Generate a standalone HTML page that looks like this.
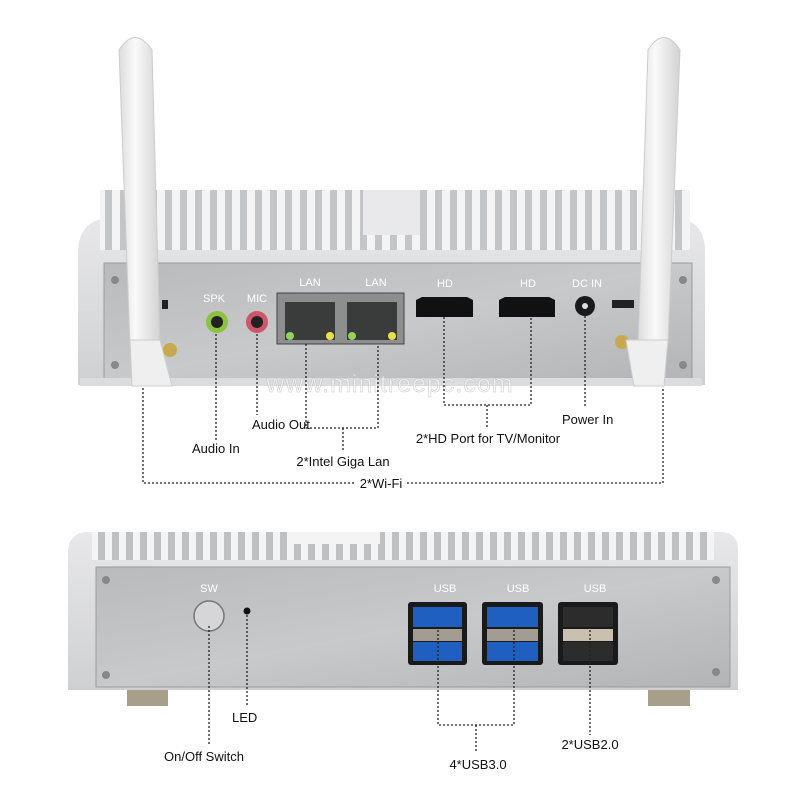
<!DOCTYPE html>
<html><head><meta charset="utf-8"><style>
body{margin:0;background:#fff;width:800px;height:800px;overflow:hidden}
svg text{font-family:"Liberation Sans",sans-serif}
</style></head><body>
<svg width="800" height="800" viewBox="0 0 800 800" xmlns="http://www.w3.org/2000/svg">
<defs>
<linearGradient id="body" x1="0" y1="0" x2="0" y2="1"><stop offset="0" stop-color="#e8e8ea"/><stop offset="1" stop-color="#cfd0d2"/></linearGradient>
<linearGradient id="panel" x1="0" y1="0" x2="1" y2="1"><stop offset="0" stop-color="#b9babc"/><stop offset="0.5" stop-color="#c8c9cb"/><stop offset="1" stop-color="#b3b4b6"/></linearGradient>
<linearGradient id="ant" x1="0" y1="0" x2="1" y2="0"><stop offset="0" stop-color="#dcdcdc"/><stop offset="0.4" stop-color="#fafafa"/><stop offset="1" stop-color="#d2d2d2"/></linearGradient>
<pattern id="fins" width="15" height="80" patternUnits="userSpaceOnUse"><rect width="15" height="80" fill="#f4f4f5"/><rect x="0" width="7" height="80" fill="#c4c5c7"/></pattern>
<pattern id="fins2" width="14" height="40" patternUnits="userSpaceOnUse"><rect width="14" height="40" fill="#f4f4f5"/><rect x="0" width="7" height="40" fill="#bfc0c2"/></pattern>
</defs>

<!-- TOP DEVICE -->
<path d="M78 250 Q80 218 112 218 L672 218 Q704 218 705 250 L705 385 L78 385 Z" fill="url(#body)"/>
<rect x="100" y="190" width="590" height="60" fill="url(#fins)"/>
<rect x="363" y="190" width="57" height="45" fill="#e9e9eb"/>
<rect x="104" y="263" width="588" height="119" fill="url(#panel)" stroke="#9a9b9d"/>
<rect x="80" y="378" width="622" height="8" fill="#dcdcde"/>
<circle cx="115" cy="280" r="4" fill="#888"/><circle cx="115" cy="365" r="4" fill="#888"/>
<circle cx="683" cy="280" r="4" fill="#888"/><circle cx="683" cy="365" r="4" fill="#888"/>
<rect x="162" y="300" width="6" height="9" fill="#222"/>
<rect x="612" y="300" width="22" height="8" fill="#222"/>
<text x="214" y="302" font-size="11" fill="#fff" text-anchor="middle">SPK</text>
<text x="257" y="302" font-size="11" fill="#fff" text-anchor="middle">MIC</text>
<text x="310" y="286" font-size="11" fill="#fff" text-anchor="middle">LAN</text>
<text x="376" y="286" font-size="11" fill="#fff" text-anchor="middle">LAN</text>
<text x="445" y="287" font-size="11" fill="#fff" text-anchor="middle">HD</text>
<text x="528" y="287" font-size="11" fill="#fff" text-anchor="middle">HD</text>
<text x="587" y="287" font-size="11" fill="#fff" text-anchor="middle">DC IN</text>
<circle cx="217" cy="322" r="11" fill="#8cc23c"/><circle cx="217" cy="322" r="6" fill="#222"/>
<circle cx="257" cy="322" r="11" fill="#d0556a"/><circle cx="257" cy="322" r="6" fill="#222"/>
<rect x="277" y="293" width="127" height="51" fill="#8d8e8e" stroke="#444"/>
<rect x="285" y="302" width="50" height="38" fill="#3a3b3b"/><rect x="347" y="302" width="50" height="38" fill="#3a3b3b"/>
<circle cx="290" cy="336" r="4" fill="#8fd35a"/><circle cx="330" cy="336" r="4" fill="#e8e04a"/>
<circle cx="352" cy="336" r="4" fill="#8fd35a"/><circle cx="392" cy="336" r="4" fill="#e8e04a"/>
<path d="M416 300 L422 297 L467 297 L473 300 L473 317 L416 317 Z" fill="#111"/>
<path d="M499 300 L505 297 L549 297 L555 300 L555 317 L499 317 Z" fill="#111"/>
<circle cx="585" cy="306" r="10" fill="#1a1a1a"/><circle cx="585" cy="306" r="3" fill="#ddd"/>
<circle cx="170" cy="350" r="7" fill="#c9a94e"/><circle cx="622" cy="342" r="7" fill="#c9a94e"/>
<!-- antennas -->
<path d="M119 50 Q135 25 152 50 L160 345 L130 345 Z" fill="url(#ant)" stroke="#ccc"/>
<path d="M130 340 L160 340 L172 386 L132 386 Z" fill="#efefef" stroke="#ccc"/>
<path d="M648 50 Q664 25 680 50 L668 345 L638 345 Z" fill="url(#ant)" stroke="#ccc"/>
<path d="M626 340 L668 340 L664 386 L634 386 Z" fill="#efefef" stroke="#ccc"/>
<text x="390" y="392" font-size="25" fill="#fff" fill-opacity="0.5" stroke="#c4c4c4" stroke-width="0.5" text-anchor="middle" letter-spacing="1">www.minitreepc.com</text>

<!-- top connectors -->
<g stroke="#222" stroke-width="1.3" stroke-dasharray="2,2" fill="none">
<path d="M216 334 V440"/><path d="M257 334 V415"/>
<path d="M306 344 V428 H378 V344"/><path d="M343 428 V452"/>
<path d="M444 317 V405 H531 V317"/><path d="M487 405 V428"/>
<path d="M585 316 V408"/>
<path d="M143 388 V483 H355"/><path d="M407 483 H663 V388"/>
</g>
<g font-size="13" fill="#111">
<text x="192" y="453">Audio In</text>
<text x="252" y="429">Audio Out</text>
<text x="343" y="466" text-anchor="middle">2*Intel Giga Lan</text>
<text x="488" y="443" text-anchor="middle">2*HD Port for TV/Monitor</text>
<text x="562" y="424">Power In</text>
<text x="381" y="488" text-anchor="middle">2*Wi-Fi</text>
</g>

<!-- BOTTOM DEVICE -->
<path d="M68 550 Q70 532 88 532 L720 532 Q738 532 738 550 L738 690 L68 690 Z" fill="url(#body)"/>
<rect x="92" y="532" width="622" height="28" fill="url(#fins2)"/>
<rect x="290" y="532" width="90" height="12" fill="#f4f4f5"/>
<rect x="96" y="567" width="634" height="120" fill="url(#panel)" stroke="#9a9b9d"/>
<circle cx="106" cy="580" r="4" fill="#888"/><circle cx="106" cy="675" r="4" fill="#888"/>
<circle cx="716" cy="580" r="4" fill="#888"/><circle cx="716" cy="672" r="4" fill="#888"/>
<rect x="127" y="690" width="41" height="16" fill="#a89f8a"/><rect x="648" y="690" width="42" height="16" fill="#a89f8a"/>
<text x="209" y="592" font-size="11" fill="#fff" text-anchor="middle">SW</text>
<circle cx="209" cy="616" r="15" fill="#d6d6d8" stroke="#777" stroke-width="1.5"/>
<circle cx="247" cy="611" r="3.5" fill="#111"/>
<text x="445" y="592" font-size="11" fill="#fff" text-anchor="middle">USB</text>
<text x="518" y="592" font-size="11" fill="#fff" text-anchor="middle">USB</text>
<text x="595" y="592" font-size="11" fill="#fff" text-anchor="middle">USB</text>
<rect x="408" y="602" width="59" height="63" rx="3" fill="#1a1a1a"/>
<rect x="413" y="607" width="49" height="20" fill="#1f5fc0"/><rect x="413" y="629" width="49" height="12" fill="#a39c92"/><rect x="413" y="642" width="49" height="19" fill="#1f5fc0"/>
<rect x="482" y="602" width="61" height="63" rx="3" fill="#1a1a1a"/>
<rect x="487" y="607" width="51" height="20" fill="#1f5fc0"/><rect x="487" y="629" width="51" height="12" fill="#a39c92"/><rect x="487" y="642" width="51" height="19" fill="#1f5fc0"/>
<rect x="558" y="602" width="60" height="63" rx="3" fill="#1a1a1a"/>
<rect x="563" y="607" width="50" height="20" fill="#2c2c2c"/><rect x="563" y="629" width="50" height="12" fill="#c9c0b0"/><rect x="563" y="642" width="50" height="19" fill="#2c2c2c"/>

<g stroke="#222" stroke-width="1.3" stroke-dasharray="2,2" fill="none">
<path d="M209 626 V745"/><path d="M247 615 V705"/>
<path d="M438 630 V725 H514 V630"/><path d="M476 725 V752"/>
<path d="M590 630 V735"/>
</g>
<g font-size="13" fill="#111">
<text x="232" y="722">LED</text>
<text x="164" y="761">On/Off Switch</text>
<text x="478" y="769" text-anchor="middle">4*USB3.0</text>
<text x="590" y="749" text-anchor="middle">2*USB2.0</text>
</g>
</svg>
</body></html>
